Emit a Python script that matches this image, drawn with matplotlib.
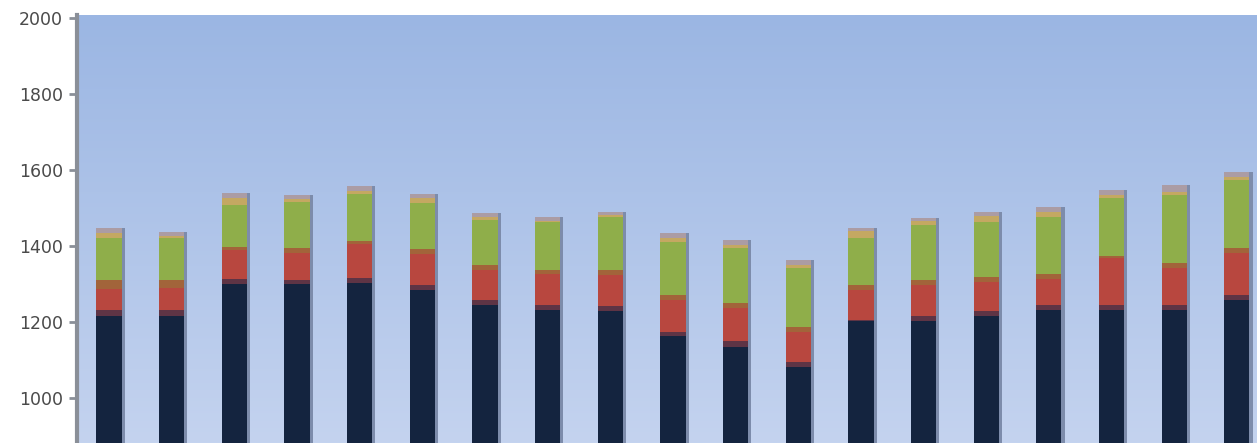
import numpy as np
import matplotlib
matplotlib.use("Agg")
import matplotlib.pyplot as plt
from matplotlib.colors import LinearSegmentedColormap

# stacked values per bar, bottom to top
navy = [1216, 1216, 1300, 1300, 1302, 1284, 1245, 1232, 1228, 1163,
        1134, 1082, 1203, 1203, 1216, 1232, 1232, 1232, 1258]
maroon = [16, 16, 13, 10, 15, 13, 13, 13, 13, 11, 16, 13, 3, 13, 12, 13, 13, 13, 13]
red = [55, 58, 77, 71, 87, 82, 79, 82, 83, 84, 87, 79, 78, 81, 77, 68, 123, 97, 111]
orange = [23, 21, 8, 13, 8, 13, 13, 11, 13, 13, 13, 13, 13, 13, 13, 13, 5, 13, 13]
green = [111, 110, 110, 121, 124, 121, 118, 124, 139, 140,
         145, 155, 124, 145, 145, 150, 153, 179, 179]
tan = [13, 5, 18, 10, 10, 13, 8, 5, 5, 10, 8, 8, 18, 12, 16, 13, 8, 8, 8]
mauve = [13, 10, 13, 8, 12, 11, 11, 10, 9, 13, 13, 13, 8, 7, 10, 14, 13, 19, 13]

yticks = [1000, 1200, 1400, 1600, 1800, 2000]

series = [navy, maroon, red, orange, green, tan, mauve]
colors = ["#14243f", "#5e3445", "#b8473f", "#a2643a", "#8fae4a", "#c4a862", "#ab9ca4"]

fig = plt.figure(figsize=(12.57, 4.43), dpi=100)
ax = fig.add_axes([77 / 1257, 0, 1 - 77 / 1257, (443 - 15) / 443])

x = np.arange(len(navy))
xlim = (-0.511, 18.32)
ylim = (881.6, 2007.9)

# background gradient
cmap = LinearSegmentedColormap.from_list("bg", ["#c4d3ef", "#9bb6e3"])
grad = np.linspace(0, 1, 256).reshape(-1, 1)
ax.imshow(grad, extent=[xlim[0], xlim[1], ylim[0], ylim[1]], origin="lower",
          aspect="auto", cmap=cmap, zorder=0)

# faint shadow to the right of each bar
tops = np.sum(series, axis=0)
ax.bar(x + 0.05, tops, width=0.40, color="#7d8cab", linewidth=0, zorder=1)

bottom = np.zeros(len(navy))
for vals, col in zip(series, colors):
    ax.bar(x, vals, width=0.40, bottom=bottom, color=col, linewidth=0, zorder=2)
    bottom += np.array(vals)

ax.set_xlim(*xlim)
ax.set_ylim(*ylim)
ax.set_xticks([])
ax.set_yticks(yticks)
ax.set_yticklabels([str(t) for t in yticks], fontsize=12.5, color="#4a4a4a")
ax.tick_params(axis="y", length=6, width=2, color="#8a8f98", pad=4)

for s in ["top", "right", "bottom"]:
    ax.spines[s].set_visible(False)
ax.spines["left"].set_color("#8a8f98")
ax.spines["left"].set_linewidth(3)

fig.savefig("out.png", dpi=100)
